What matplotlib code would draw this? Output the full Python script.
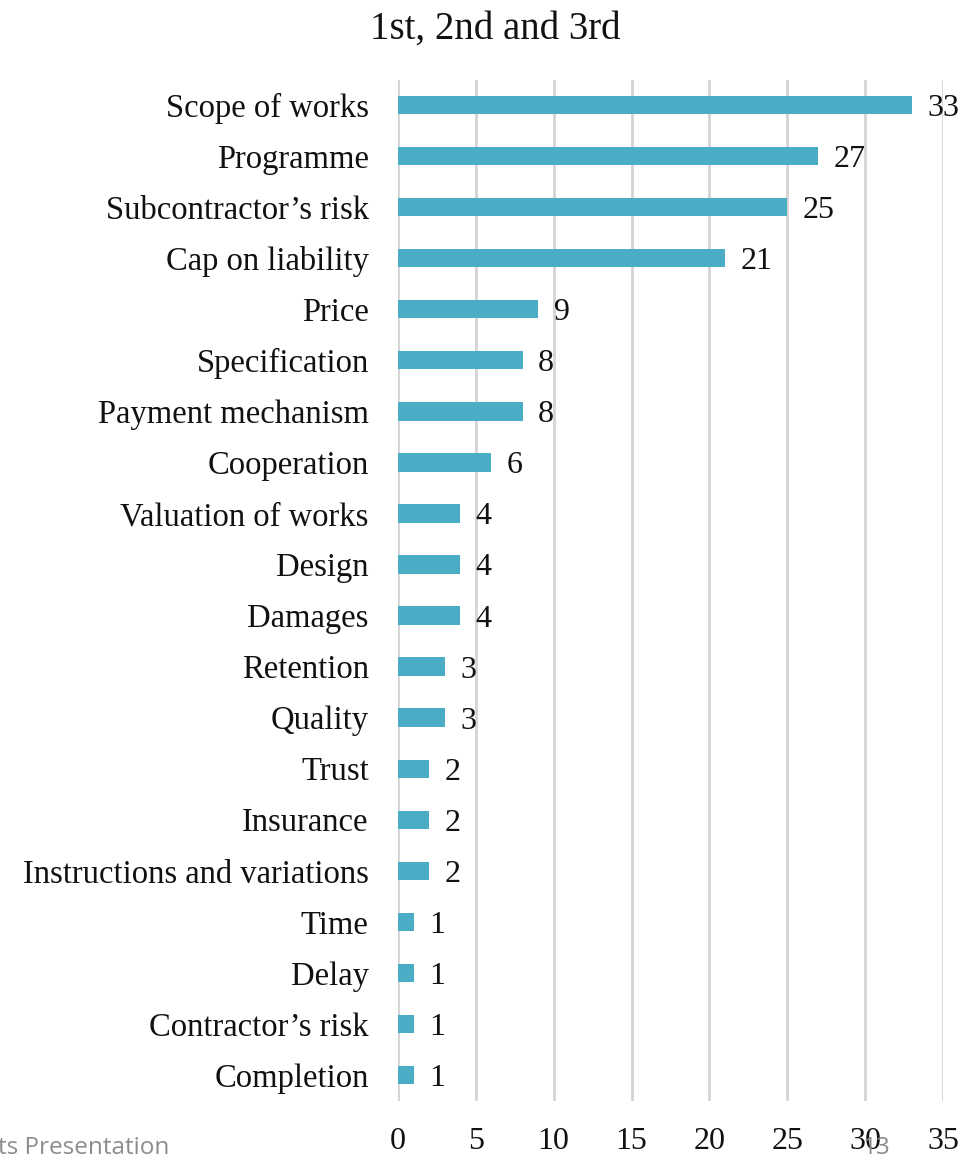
import matplotlib
matplotlib.use("Agg")
import matplotlib.pyplot as plt

categories = [
    "Scope of works", "Programme", "Subcontractor\u2019s risk", "Cap on liability",
    "Price", "Specification", "Payment mechanism", "Cooperation",
    "Valuation of works", "Design", "Damages", "Retention", "Quality",
    "Trust", "Insurance", "Instructions and variations", "Time", "Delay",
    "Contractor\u2019s risk", "Completion",
]
counts = [33, 27, 25, 21, 9, 8, 8, 6, 4, 4, 4, 3, 3, 2, 2, 2, 1, 1, 1, 1]
x_ticks = [0, 5, 10, 15, 20, 25, 30, 35]

plt.rcParams["font.family"] = ["Liberation Serif", "DejaVu Serif"]

fig = plt.figure(figsize=(9.8, 11.61), dpi=100)
ax = fig.add_axes([0.4061, 0.0521, 0.5561, 0.8794])

positions = list(range(len(categories)))
ax.barh(positions, counts, height=0.36, color="#4BACC6", zorder=3)

for y, v in zip(positions, counts):
    ax.text(v + 1.0, y, str(v), va="center_baseline", ha="left",
            fontsize=23, color="#111111")

ax.set_xlim(0, 35)
ax.set_ylim(len(categories) - 0.5, -0.5)
ax.set_yticks(positions)
ax.set_yticklabels(categories, fontsize=23.5, va="center_baseline")
ax.set_xticks(x_ticks)
ax.set_xticklabels([str(t) for t in x_ticks], fontsize=23)
ax.tick_params(axis="both", length=0, colors="#111111")
ax.tick_params(axis="y", pad=21)
ax.tick_params(axis="x", pad=19)

ax.grid(axis="x", color="#d4d4d4", linewidth=2, zorder=0)
for side in ax.spines.values():
    side.set_visible(False)

fig.text(0.505, 0.975, "1st, 2nd and 3rd", ha="center", va="center",
         fontsize=28, color="#111111")

fig.text(-0.002, 0.006, "ts Presentation", ha="left", va="baseline", fontsize=17.5,
         color="#8c8c8c", family=["Open Sans", "DejaVu Sans"])
fig.text(0.895, 0.006, "13", ha="center", va="baseline", fontsize=17.5,
         color="#8c8c8c", family=["Open Sans", "DejaVu Sans"])

fig.savefig("out.png", dpi=100)
